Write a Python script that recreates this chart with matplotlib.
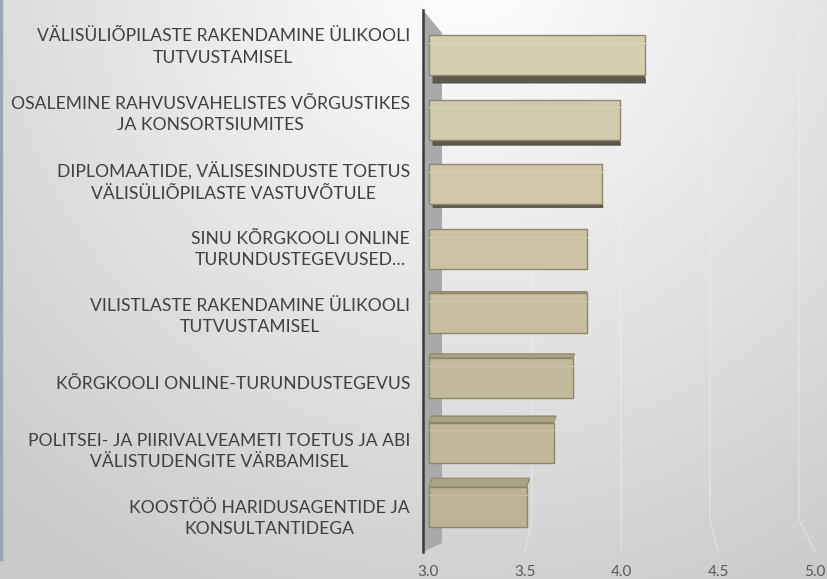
import numpy as np
import matplotlib
matplotlib.use("Agg")
import matplotlib.pyplot as plt
from matplotlib.patches import Polygon
from matplotlib import transforms
from matplotlib.colors import to_rgb

# data (top to bottom)
labels = [
    "VÄLISÜLIÕPILASTE RAKENDAMINE ÜLIKOOLI\nTUTVUSTAMISEL",
    "OSALEMINE RAHVUSVAHELISTES VÕRGUSTIKES\nJA KONSORTSIUMITES",
    "DIPLOMAATIDE, VÄLISESINDUSTE TOETUS\nVÄLISÜLIÕPILASTE VASTUVÕTULE",
    "SINU KÕRGKOOLI ONLINE\nTURUNDUSTEGEVUSED…",
    "VILISTLASTE RAKENDAMINE ÜLIKOOLI\nTUTVUSTAMISEL",
    "KÕRGKOOLI ONLINE-TURUNDUSTEGEVUS",
    "POLITSEI- JA PIIRIVALVEAMETI TOETUS JA ABI\nVÄLISTUDENGITE VÄRBAMISEL",
    "KOOSTÖÖ HARIDUSAGENTIDE JA\nKONSULTANTIDEGA",
]
values = [4.12, 3.99, 3.90, 3.82, 3.82, 3.75, 3.65, 3.51]
xticks = [3.0, 3.5, 4.0, 4.5, 5.0]
xmin, xmax = 3.0, 5.0

W, H = 828, 579
fig = plt.figure(figsize=(W / 100, H / 100), dpi=100)

# background gradient
bg = fig.add_axes([0, 0, 1, 1])
yy, xx = np.mgrid[0:H, 0:W]
r = np.hypot(xx - 470, yy + 30)
shade = 1 - 0.21 * np.clip(r / 720, 0, 1)
img = np.dstack([shade, shade, shade])
bg.imshow(img, extent=[0, W, H, 0], aspect="auto")
bg.fill_between([0, 2.5], 0, 560, color="#9AA6B4")
bg.set_xlim(0, W)
bg.set_ylim(H, 0)
bg.axis("off")

# main axes: x 3.0 -> px 428, 5.0 -> px 815
left, right = 428 / W, 815 / W
top_px, bot_px = 10, 552
ax = fig.add_axes([left, 1 - bot_px / H, right - left, (bot_px - top_px) / H])
ax.patch.set_alpha(0)
spacing = 64.6
c0 = 55
ax.set_xlim(xmin, xmax)
ax.set_ylim((bot_px - c0) / spacing, (top_px - c0) / spacing)

ppx = (xmax - xmin) / (815 - 428)   # data per pixel in x
ppy = 1 / spacing                   # data per pixel in y


def px(x, y):
    return (x / W, 1 - y / H)


# side wall
wall = Polygon([px(423, 10), px(442, 33), px(442, 543), px(423, 552)],
               closed=True, transform=fig.transFigure, facecolor="#A9A9AB",
               edgecolor="none", zorder=1, clip_on=False)
ax.add_patch(wall)

# faint back grid lines
for t in xticks[1:]:
    xb = xmin + (15 + (t - 3.0) * 178) * ppx
    xf = t
    ax.plot([xb, xb, xf], [-0.35, 7.2, 7.69], color="#F2F2F2", lw=0.8,
            alpha=0.55, zorder=0, clip_on=False)

ax.plot([3.0 - 5 * ppx] * 2, [(top_px - c0) / spacing, (bot_px - c0) / spacing],
        color="#3A3A3A", lw=1.8, clip_on=False, zorder=2)

n = len(values)
hh = 0.62
c_top = np.array(to_rgb("#D6CEB0"))
c_bot = np.array(to_rgb("#BCB494"))
for i, v in enumerate(values):
    f = i / (n - 1)
    face = c_top * (1 - f) + c_bot * f
    d = 8 - 17 * f   # pixel depth of the 3D face
    x0, x1 = xmin + 1 * ppx, v
    if d > 0:
        yb = i + hh / 2
        poly = [(x0 + 4 * ppx, yb), (x1, yb), (x1 + 1 * ppx, yb + d * ppy),
                (x0 + 4 * ppx, yb + d * ppy)]
        ax.add_patch(Polygon(poly, closed=True, facecolor="#5E5A4B",
                             edgecolor="#4E4A3E", lw=0.6, zorder=3))
    elif d < 0:
        yt = i - hh / 2
        poly = [(x0, yt), (x1, yt), (x1 + 3 * ppx * (-d / 9), yt + d * ppy),
                (x0 + 3 * ppx * (-d / 9), yt + d * ppy)]
        ax.add_patch(Polygon(poly, closed=True, facecolor="#ABA385",
                             edgecolor="#8E8668", lw=0.8, zorder=3))
    ax.barh(i, x1 - x0, left=x0, height=hh, color=face, edgecolor="#8E8668",
            lw=1.0, zorder=4)
    # inner highlight line near the top edge
    ax.plot([x0, x1], [i - hh / 2 + 0.12, i - hh / 2 + 0.12],
            color=np.clip(face + 0.04, 0, 1), lw=0.8, zorder=5)

# category labels
tr = transforms.blended_transform_factory(fig.transFigure, ax.transData)
for i, lab in enumerate(labels):
    ypos = i + (-8 + 2.8 * i) / spacing
    ax.text(410 / W, ypos, lab, transform=tr, ha="right", va="center",
            multialignment="center", fontsize=12.6, family="Lato",
            color="#404040", linespacing=1.4)

ax.set_yticks([])
ax.set_xticks(xticks)
ax.set_xticklabels([f"{t:.1f}" for t in xticks], family="Lato",
                   fontsize=11, color="#595959")
ax.tick_params(axis="x", length=0, pad=9)
for s in ax.spines.values():
    s.set_visible(False)

fig.savefig("out.png", dpi=100)
